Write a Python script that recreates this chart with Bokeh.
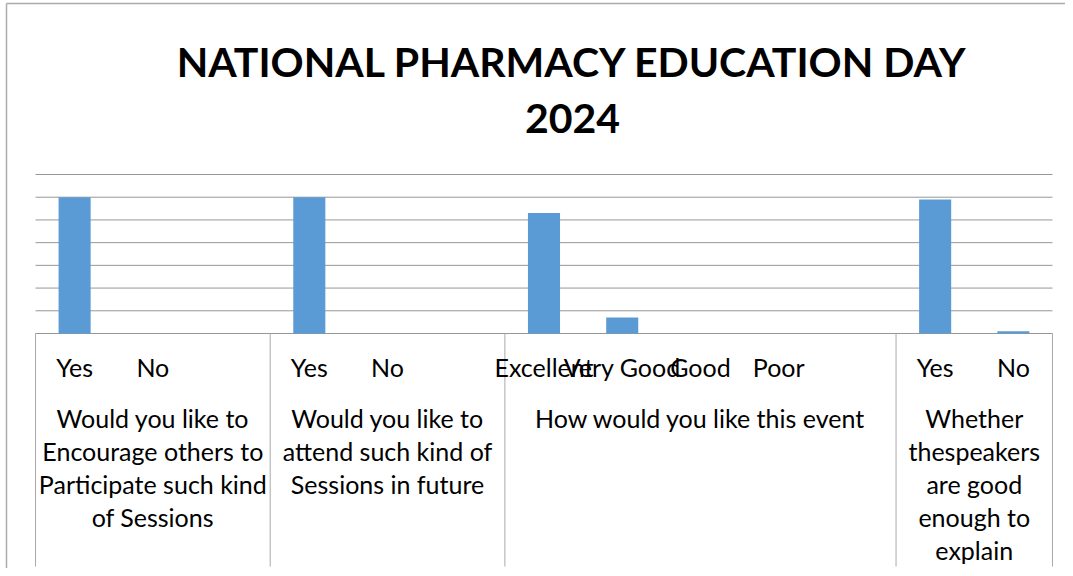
from bokeh.plotting import figure
from bokeh.models import ColumnDataSource, Range1d
from bokeh.core.properties import value
from bokeh.embed import file_html
from bokeh.resources import INLINE

# ---- data ----
title_lines = ["NATIONAL PHARMACY EDUCATION DAY", "2024"]
questions = [
    "Would you like to\nEncourage others to\nParticipate such kind\nof Sessions",
    "Would you like to\nattend such kind of\nSessions in future",
    "How would you like this event",
    "Whether\nthespeakers\nare good\nenough to\nexplain",
]
options = [
    ["Yes", "No"],
    ["Yes", "No"],
    ["Excellent", "Very Good", "Good", "Poor"],
    ["Yes", "No"],
]
counts = [
    [120, 0],
    [120, 0],
    [106, 14, 0, 0],
    [118, 2],
]
grid_ticks = [0, 20, 40, 60, 80, 100, 120, 140]

# ---- category slots (each group followed by an empty slot, as in the source) ----
xs, tops, labels = [], [], []
group_edges, group_centers = [0.0], []
slot = 0
for gi, (opts, vals) in enumerate(zip(options, counts)):
    start = slot
    for o, v in zip(opts, vals):
        xs.append(slot + 0.5)
        tops.append(v)
        labels.append(o)
        slot += 1
    if gi < len(options) - 1:
        slot += 1  # empty category
    group_edges.append(float(slot))
    group_centers.append((start + slot) / 2.0)
n_slots = slot

# ---- layout: plot frame covers the whole canvas ----
W, H = 1065, 568
PLOT_L, PLOT_R = 35, 1052          # canvas px of category area
BASE, TOP = 333, 174               # canvas px of value 0 and of top gridline
BOX_BOTTOM = 566
ux = (PLOT_R - PLOT_L) / n_slots
ky = (BASE - TOP) / grid_ticks[-1]
x0 = -PLOT_L / ux
x1 = (W - PLOT_L) / ux
y1 = BASE / ky
y0 = -(H - BASE) / ky


def cx(px):
    return (px - PLOT_L) / ux


def cy(py):
    return (BASE - py) / ky


p = figure(width=W, height=H, output_backend="svg", toolbar_location=None,
           x_axis_type=None, y_axis_type=None, title=None,
           x_range=Range1d(x0, x1), y_range=Range1d(y0, y1),
           min_border=0, min_border_left=0, min_border_right=0,
           min_border_top=0, min_border_bottom=0)
p.outline_line_color = None
p.background_fill_color = "white"
p.border_fill_color = "white"

# chart-area border (left and top)
p.segment(x0=[cx(6), cx(6)], x1=[cx(6), x1],
          y0=[y0, cy(3)], y1=[cy(3), cy(3)],
          line_color="#ababab", line_width=1.5)

# horizontal gridlines across the category area
p.segment(x0=[0] * len(grid_ticks), x1=[n_slots] * len(grid_ticks),
          y0=grid_ticks, y1=grid_ticks, line_color="#979797", line_width=1)

# bars
src = ColumnDataSource(dict(x=xs, top=tops, label=labels))
p.vbar(x="x", top="top", bottom=0, width=0.41, source=src,
       fill_color="#5B9BD5", line_color=None)

# group separators (category box lines)
p.segment(x0=group_edges, x1=group_edges, y0=[0] * len(group_edges),
          y1=[cy(BOX_BOTTOM)] * len(group_edges), line_color="#a9a9a9", line_width=1)

# option labels
p.text(x="x", y=cy(366), text="label", source=src, text_align="center",
       text_baseline="middle", text_font=value("Lato"), text_font_size="25px",
       text_color="#000000")

# question labels
qsrc = ColumnDataSource(dict(x=group_centers, text=questions))
p.text(x="x", y=cy(402), text="text", source=qsrc, text_align="center",
       text_baseline="top", text_font=value("Lato"), text_font_size="25px",
       text_line_height=1.1, text_color="#000000")

# title (two centred lines)
tx = cx(572)
p.text(x=[tx, tx], y=[cy(61), cy(118)], text=title_lines,
       text_align="center", text_baseline="middle", text_font=value("Lato"),
       text_font_style="bold", text_font_size="41px", text_color="#000000")

open("out.html", "w").write(file_html(p, INLINE))
